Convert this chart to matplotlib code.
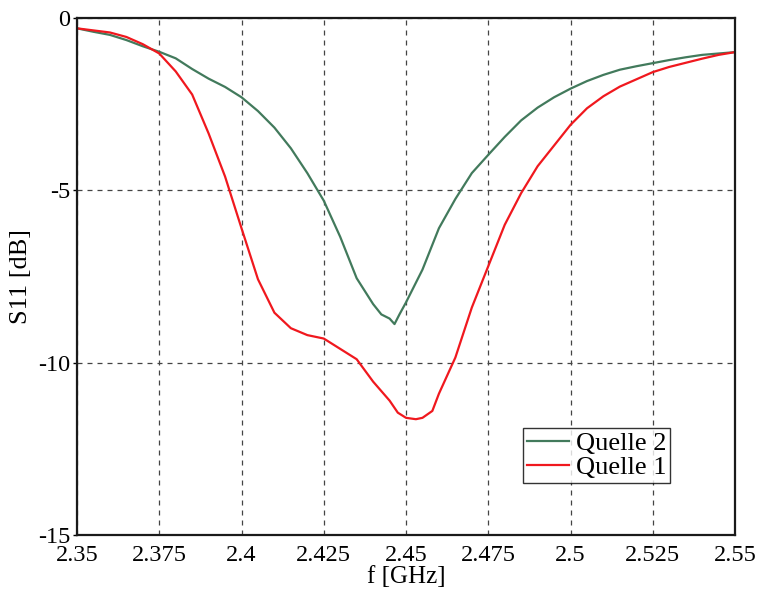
import matplotlib

matplotlib.use("Agg")

import matplotlib.pyplot as plt

# frequency grid in GHz, S11 readings in dB
freq_q2 = [2.35, 2.355, 2.36, 2.365, 2.37, 2.375, 2.38, 2.385, 2.39, 2.395,
           2.40, 2.405, 2.41, 2.415, 2.42, 2.425, 2.43, 2.435, 2.44, 2.4425,
           2.445, 2.4465, 2.448, 2.45, 2.455, 2.46, 2.465, 2.47, 2.475, 2.48,
           2.485, 2.49, 2.495, 2.50, 2.505, 2.51, 2.515, 2.52, 2.525, 2.53,
           2.535, 2.54, 2.545, 2.55]
s11_q2 = [-0.30, -0.40, -0.49, -0.64, -0.82, -0.98, -1.17, -1.48, -1.76, -2.00,
          -2.30, -2.70, -3.18, -3.78, -4.50, -5.30, -6.35, -7.55, -8.30, -8.60,
          -8.72, -8.88, -8.60, -8.25, -7.30, -6.10, -5.25, -4.50, -3.97, -3.45,
          -2.97, -2.60, -2.30, -2.05, -1.83, -1.65, -1.50, -1.40, -1.31, -1.22,
          -1.14, -1.07, -1.03, -0.99]

freq_q1 = [2.35, 2.355, 2.36, 2.365, 2.37, 2.375, 2.38, 2.385, 2.39, 2.395,
           2.40, 2.405, 2.41, 2.415, 2.42, 2.425, 2.43, 2.435, 2.44, 2.445,
           2.4475, 2.45, 2.453, 2.455, 2.458, 2.46, 2.465, 2.47, 2.475, 2.48,
           2.485, 2.49, 2.495, 2.50, 2.505, 2.51, 2.515, 2.52, 2.525, 2.53,
           2.535, 2.54, 2.545, 2.55]
s11_q1 = [-0.30, -0.36, -0.42, -0.55, -0.76, -1.03, -1.55, -2.22, -3.35, -4.60,
          -6.10, -7.58, -8.55, -9.00, -9.20, -9.30, -9.60, -9.90, -10.55, -11.10,
          -11.45, -11.60, -11.64, -11.60, -11.40, -10.90, -9.85, -8.40, -7.20, -6.00,
          -5.08, -4.30, -3.70, -3.10, -2.62, -2.27, -1.99, -1.78, -1.57, -1.42,
          -1.30, -1.18, -1.07, -0.99]

x_ticks = [2.35, 2.375, 2.4, 2.425, 2.45, 2.475, 2.5, 2.525, 2.55]
x_labels = ["2.35", "2.375", "2.4", "2.425", "2.45", "2.475", "2.5", "2.525", "2.55"]
y_ticks = [0, -5, -10, -15]
y_labels = ["0", "-5", "-10", "-15"]

plt.rcParams["font.family"] = ["Liberation Serif", "DejaVu Serif"]

fig = plt.figure(figsize=(7.58, 5.94), dpi=100)
ax = fig.add_axes([0.1016, 0.0993, 0.8681, 0.8704])

ax.plot(freq_q2, s11_q2, color="#427a5c", lw=1.6, label="Quelle 2")
ax.plot(freq_q1, s11_q1, color="#f0181e", lw=1.6, label="Quelle 1")

ax.set_xlim(2.35, 2.55)
ax.set_ylim(-15, 0)
ax.set_xticks(x_ticks)
ax.set_xticklabels(x_labels)
ax.set_yticks(y_ticks)
ax.set_yticklabels(y_labels)
ax.tick_params(axis="x", length=0, pad=7, labelsize=17.5)
ax.tick_params(axis="y", length=3, width=1, pad=2, labelsize=17.5)

ax.grid(True, ls=(0, (4, 4)), color="#444444", lw=0.9)
for sp in ax.spines.values():
    sp.set_linewidth(1.6)
    sp.set_color("#1a1a1a")

ax.set_xlabel("f [GHz]", fontsize=18, labelpad=0)
ax.set_ylabel("S11 [dB]", fontsize=19, labelpad=4)

leg = ax.legend(loc="upper left", bbox_to_anchor=(0.678, 0.207), fontsize=19,
                frameon=True, fancybox=False, handlelength=1.6, handletextpad=0.25,
                borderpad=0.15, labelspacing=0.0, borderaxespad=0)
leg.get_frame().set_edgecolor("black")
leg.get_frame().set_linewidth(1.0)

fig.savefig("out.png", dpi=100)
